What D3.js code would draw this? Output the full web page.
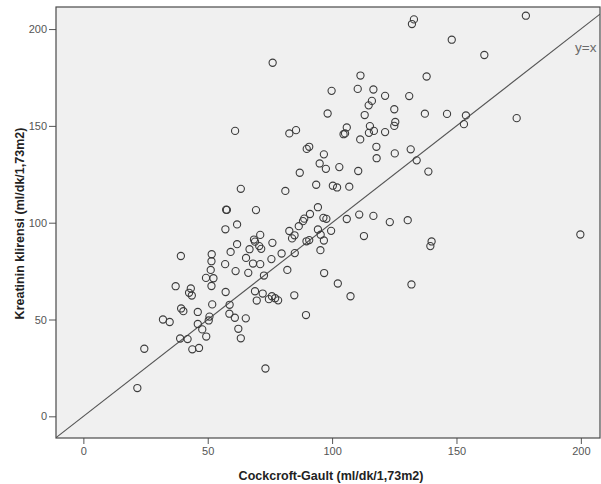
<!DOCTYPE html>
<html>
<head>
<meta charset="utf-8">
<script src="https://cdn.jsdelivr.net/npm/d3@7"></script>
<style>
  body { margin:0; background:#fff; }
  svg { display:block; font-family:"Liberation Sans", Arial, sans-serif; }
</style>
</head>
<body>
<svg id="chart" width="601" height="484"></svg>
<script>
// Cockcroft-Gault estimate (x) vs measured creatinine clearance (y)
const cgValues = [
  21.7,24.5,32.0,34.7,37.1,38.9,41.9,43.8,46.5,39.3,40.2,46.0,46.0,47.8,49.4,50.7,50.4,51.8,58.8,58.7,
  60.9,65.3,62.3,63.3,73.2,57.2,43.2,42.5,43.6,51.5,49.3,52.3,39.2,51.6,51.5,51.2,57.0,61.2,66.3,72.6,
  65.4,68.2,71.1,75.6,79.7,85.0,82.0,59.2,66.8,61.8,57.1,57.4,57.7,69.4,63.3,81.2,61.0,76.1,82.8,85.5,
  87.0,61.8,68.6,69.0,71.1,70.7,71.5,76.0,82.8,84.9,83.9,86.6,88.8,88.3,89.7,90.8,91.1,94.3,93.6,95.0,
  94.3,95.3,89.5,84.8,69.0,72.1,69.7,74.6,75.8,77.1,78.3,111.4,138.0,99.8,110.3,116.6,121.3,131.0,116.0,114.7,
  125.0,113.1,98.2,137.3,146.2,125.4,125.0,105.9,105.2,104.6,115.2,116.8,114.8,121.3,111.3,117.8,89.8,90.8,96.7,125.2,
  131.6,117.9,134.0,97.5,102.9,110.5,138.7,100.3,102.0,106.9,96.5,97.7,105.9,110.9,116.6,123.2,130.4,99.6,112.8,96.7,
  95.4,140.0,139.5,96.8,102.3,107.4,131.9,199.8,132.9,132.1,177.9,148.1,161.2,153.8,153.0,174.2
];
const kkValues = [
  14.6,34.9,50.0,48.7,67.2,40.2,39.9,34.6,35.3,55.7,54.3,53.9,47.7,44.9,41.2,51.5,49.5,57.8,57.6,53.0,
  50.9,50.6,45.2,40.3,24.7,64.2,66.0,63.8,62.4,67.3,71.5,71.3,82.8,83.7,80.1,75.6,78.6,75.0,74.1,72.7,
  81.8,78.9,78.6,81.2,84.1,84.3,75.6,84.9,86.3,99.1,96.6,106.7,106.6,106.5,117.5,116.4,147.4,182.6,146.1,147.8,
  125.8,88.9,91.3,90.2,93.7,87.9,86.5,89.6,95.7,93.5,91.9,98.2,102.1,100.8,90.4,91.0,104.5,108.0,119.6,130.6,
  96.5,85.8,52.3,62.5,64.6,63.4,59.8,60.5,62.0,61.0,59.9,176.0,175.5,168.1,169.1,168.8,165.5,165.4,162.9,160.6,
  158.6,155.6,156.4,156.3,156.2,152.0,150.0,149.2,146.1,145.7,149.9,147.4,146.4,146.8,143.0,139.2,138.1,139.2,135.3,135.8,
  137.9,133.3,132.2,127.8,128.7,126.7,126.4,119.1,118.2,118.6,102.5,102.0,101.9,104.2,103.5,100.3,101.3,95.8,93.1,90.8,
  93.8,90.3,87.9,74.0,68.6,62.0,68.1,93.9,205.0,202.6,206.9,194.5,186.6,155.4,150.9,154.0
];
const xTicks = [0, 50, 100, 150, 200];
const yTicks = [0, 50, 100, 150, 200];
const xDomain = [-11, 207.7];
const yDomain = [-11.2, 211.4];

const points = cgValues.map((v, i) => ({ x: v, y: kkValues[i] }));

const plot = { left: 56, top: 7, right: 600, bottom: 438 };
const svg = d3.select('#chart');

const x = d3.scaleLinear().domain(xDomain).range([plot.left, plot.right]);
const y = d3.scaleLinear().domain(yDomain).range([plot.bottom, plot.top]);

svg.append('rect')
    .attr('x', plot.left).attr('y', plot.top)
    .attr('width', plot.right - plot.left).attr('height', plot.bottom - plot.top)
    .attr('fill', '#f0f0f0');

svg.append('clipPath').attr('id', 'clip')
  .append('rect')
    .attr('x', plot.left).attr('y', plot.top)
    .attr('width', plot.right - plot.left).attr('height', plot.bottom - plot.top);

// reference line y = x
const lo = Math.max(xDomain[0], yDomain[0]), hi = Math.min(xDomain[1], yDomain[1]);
svg.append('line')
    .attr('clip-path', 'url(#clip)')
    .attr('x1', x(lo)).attr('y1', y(lo))
    .attr('x2', x(hi)).attr('y2', y(hi))
    .attr('stroke', '#555').attr('stroke-width', 1.1);

svg.append('text')
    .attr('x', 575).attr('y', 52)
    .text('y=x')
    .style('font-size', '13.5px')
    .attr('fill', '#6a6a6a');

svg.append('g')
    .attr('clip-path', 'url(#clip)')
  .selectAll('circle')
  .data(points)
  .join('circle')
    .attr('cx', d => x(d.x))
    .attr('cy', d => y(d.y))
    .attr('r', 3.6)
    .attr('fill', 'none')
    .attr('stroke', '#3c3c3c')
    .attr('stroke-width', 1.1);

// axes
const xAxis = svg.append('g')
    .attr('transform', `translate(0,${plot.bottom})`)
    .call(d3.axisBottom(x).tickValues(xTicks).tickSize(6).tickPadding(3).tickFormat(d3.format('d')));
const yAxis = svg.append('g')
    .attr('transform', `translate(${plot.left},0)`)
    .call(d3.axisLeft(y).tickValues(yTicks).tickSize(7).tickPadding(2).tickFormat(d3.format('d')));

[xAxis, yAxis].forEach(a => {
    a.select('.domain').remove();
    a.selectAll('.tick line').attr('stroke', '#555');
    a.selectAll('.tick text')
        .attr('fill', '#555')
        .style('font-size', '11px')
        .style('font-family', '"Liberation Sans", Arial, sans-serif');
});

// frame
svg.append('rect')
    .attr('x', plot.left).attr('y', plot.top)
    .attr('width', plot.right - plot.left).attr('height', plot.bottom - plot.top)
    .attr('fill', 'none')
    .attr('stroke', '#4a4a4a')
    .attr('stroke-width', 1.2);

svg.append('text')
    .attr('x', (plot.left + plot.right) / 2 + 3).attr('y', 480)
    .attr('text-anchor', 'middle')
    .style('font-size', '12.5px').style('font-weight', 'bold')
    .attr('fill', '#222')
    .text('Cockcroft-Gault (ml/dk/1,73m2)');

svg.append('text')
    .attr('transform', `translate(24,${(plot.top + plot.bottom) / 2 + 1}) rotate(-90)`)
    .attr('text-anchor', 'middle')
    .style('font-size', '12.5px').style('font-weight', 'bold')
    .attr('fill', '#222')
    .text('Kreatinin klirensi (ml/dk/1,73m2)');
</script>
</body>
</html>
